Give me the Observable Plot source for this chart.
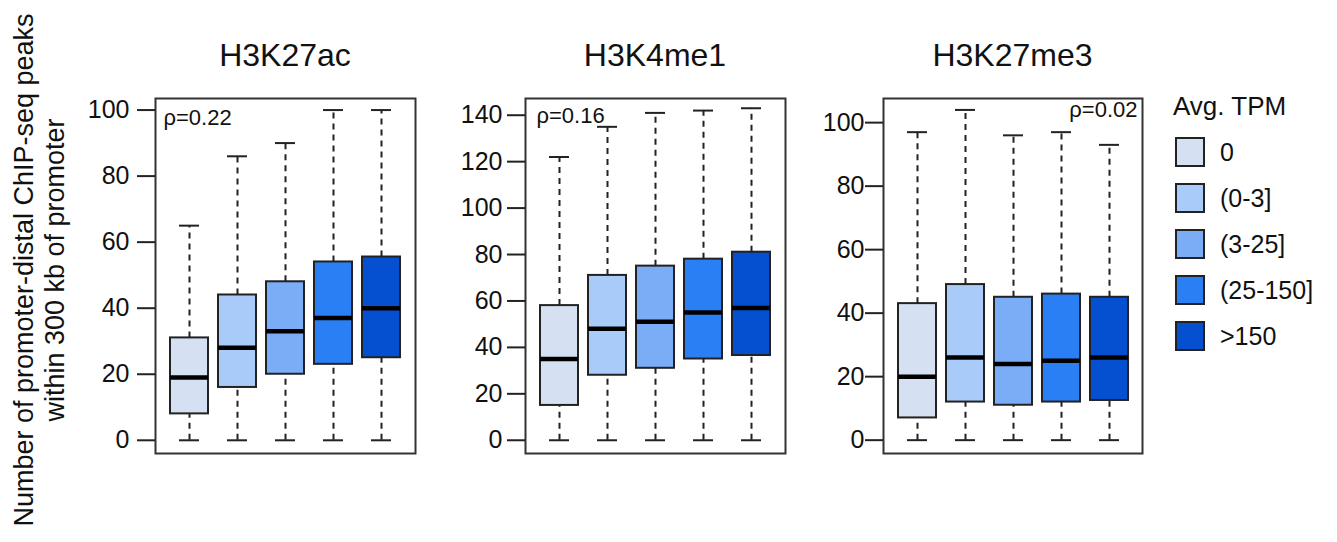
<!DOCTYPE html>
<html>
<head>
<meta charset="utf-8">
<script src="https://cdn.jsdelivr.net/npm/d3@7"></script>
<script src="https://cdn.jsdelivr.net/npm/@observablehq/plot@0.6"></script>
<style>
  html, body { margin: 0; padding: 0; background: #fff; }
  body { width: 1337px; height: 542px; position: relative; overflow: hidden;
         font-family: Arial, "Liberation Sans", sans-serif; color: #111; }
  .abs { position: absolute; }
  .title { font-size: 32px; text-align: center; width: 260px; line-height: 36px; }
  .ylab { font-size: 27px; line-height: 31px; text-align: center; width: 600px;
          transform: rotate(-90deg); transform-origin: center center; white-space: nowrap; }
  .leg-title { font-size: 26px; line-height: 28px; }
  .sw { width: 26px; height: 26px; border: 2px solid #222; }
  .leg-lab { font-size: 25px; line-height: 28px; }
  svg g[aria-label="y-axis tick"] { stroke-width: 2px; }
</style>
</head>
<body>
<script>
// ---------- data ----------
const categories = ["0", "(0-3]", "(3-25]", "(25-150]", ">150"];
const colors = ["#d5e0f2", "#a9cbfa", "#7bacf6", "#2b7ff5", "#0450d0"];
const panelTitles = ["H3K27ac", "H3K4me1", "H3K27me3"];
const rhoLabels = ["ρ=0.22", "ρ=0.16", "ρ=0.02"];

// H3K27ac
const acLow    = [0, 0, 0, 0, 0];
const acQ1     = [8, 16, 20, 23, 25];
const acMedian = [19, 28, 33, 37, 40];
const acQ3     = [31, 44, 48, 54, 55.5];
const acHigh   = [65, 86, 90, 100, 100];
// H3K4me1
const me1Low    = [0, 0, 0, 0, 0];
const me1Q1     = [15, 28, 31, 35, 36.5];
const me1Median = [35, 48, 51, 55, 57];
const me1Q3     = [58, 71, 75, 78, 81];
const me1High   = [122, 135, 141, 142, 143];
// H3K27me3
const me3Low    = [0, 0, 0, 0, 0];
const me3Q1     = [7, 12, 11, 12, 12.5];
const me3Median = [20, 26, 24, 25, 26];
const me3Q3     = [43, 49, 45, 46, 45];
const me3High   = [97, 104, 96, 97, 93];

const yTicks1 = [0, 20, 40, 60, 80, 100];
const yTicks2 = [0, 20, 40, 60, 80, 100, 120, 140];
const yTicks3 = [0, 20, 40, 60, 80, 100];

function table(low, q1, med, q3, high) {
  return categories.map((c, i) => ({cat: c, low: low[i], q1: q1[i], median: med[i], q3: q3[i], high: high[i]}));
}

const panels = [
  {data: table(acLow, acQ1, acMedian, acQ3, acHigh), domain: [-4.0, 103.5], ticks: yTicks1,
   frameLeft: 155, frameW: 260, tickPad: 8, rho: {anchor: "top-left", dx: 8, dy: 19}},
  {data: table(me1Low, me1Q1, me1Median, me1Q3, me1High), domain: [-5.7, 147.2], ticks: yTicks2,
   frameLeft: 525, frameW: 260, tickPad: 5, rho: {anchor: "top-left", dx: 11, dy: 17}},
  {data: table(me3Low, me3Q1, me3Median, me3Q3, me3High), domain: [-4.2, 107.6], ticks: yTicks3,
   frameLeft: 883, frameW: 259, tickPad: 1, rho: {anchor: "top-right", dx: -5, dy: 11}}
];

const ML = 90, MR = 6, MT = 10, MB = 10, FRAME_TOP = 98, FRAME_H = 355;
const hasAxisMark = typeof Plot.axisY === "function";

panels.forEach((p, k) => {
  const marks = [
    Plot.ruleX(p.data, {x: "cat", y1: "q3", y2: "high", stroke: "#222", strokeWidth: 2, strokeDasharray: "6,5"}),
    Plot.ruleX(p.data, {x: "cat", y1: "low", y2: "q1", stroke: "#222", strokeWidth: 2, strokeDasharray: "6,5"}),
    Plot.tickY(p.data, {x: "cat", y: "high", stroke: "#222", strokeWidth: 2, insetLeft: 9, insetRight: 9}),
    Plot.tickY(p.data, {x: "cat", y: "low", stroke: "#222", strokeWidth: 2, insetLeft: 9, insetRight: 9}),
    Plot.barY(p.data, {x: "cat", y1: "q1", y2: "q3", fill: "cat", stroke: "#222", strokeWidth: 2}),
    Plot.tickY(p.data, {x: "cat", y: "median", stroke: "#000", strokeWidth: 4.5}),
    Plot.frame({stroke: "#333", strokeWidth: 2}),
    Plot.text([rhoLabels[k]], {text: d => d, frameAnchor: p.rho.anchor, lineAnchor: "middle",
      dx: p.rho.dx, dy: p.rho.dy, fontSize: 22, fill: "#111"})
  ];
  if (hasAxisMark) {
    marks.push(Plot.axisY(p.ticks, {tickSize: 18, tickPadding: p.tickPad, strokeWidth: 2, stroke: "#222",
      fontSize: 25, fill: "#111", label: null}));
  }
  const chart = Plot.plot({
    width: ML + p.frameW + MR,
    height: MT + FRAME_H + MB,
    marginLeft: ML, marginRight: MR, marginTop: MT, marginBottom: MB,
    style: {fontSize: "25px", fontFamily: "Arial, 'Liberation Sans', sans-serif", color: "#111", background: "transparent", overflow: "visible"},
    x: {domain: categories, paddingInner: 0.21, paddingOuter: 0.3, axis: null},
    y: hasAxisMark
      ? {domain: p.domain, nice: false, axis: null}
      : {domain: p.domain, ticks: p.ticks, tickSize: 18, tickPadding: p.tickPad, label: null, line: false, nice: false},
    color: {domain: categories, range: colors},
    marks
  });
  const wrap = document.createElement("div");
  wrap.className = "abs";
  wrap.style.left = (p.frameLeft - ML) + "px";
  wrap.style.top = (FRAME_TOP - MT) + "px";
  wrap.appendChild(chart);
  document.body.appendChild(wrap);

  const t = document.createElement("div");
  t.className = "abs title";
  t.style.left = p.frameLeft + "px";
  t.style.width = p.frameW + "px";
  t.style.top = (55 - 18) + "px";
  t.textContent = panelTitles[k];
  document.body.appendChild(t);
});

// y label
const yl = document.createElement("div");
yl.className = "abs ylab";
yl.style.left = (40 - 300) + "px";
yl.style.top = (270 - 31) + "px";
yl.innerHTML = "Number of promoter-distal ChIP-seq peaks<br>within 300 kb of promoter";
document.body.appendChild(yl);

// legend
const lt = document.createElement("div");
lt.className = "abs leg-title";
lt.style.left = "1173px";
lt.style.top = (106 - 14) + "px";
lt.textContent = "Avg. TPM";
document.body.appendChild(lt);
categories.forEach((c, i) => {
  const cy = 152 + i * 46;
  const sw = document.createElement("div");
  sw.className = "abs sw";
  sw.style.left = "1175px";
  sw.style.top = (cy - 15) + "px";
  sw.style.background = colors[i];
  document.body.appendChild(sw);
  const lab = document.createElement("div");
  lab.className = "abs leg-lab";
  lab.style.left = "1220px";
  lab.style.top = (cy - 14) + "px";
  lab.textContent = c;
  document.body.appendChild(lab);
});
</script>
</body>
</html>
